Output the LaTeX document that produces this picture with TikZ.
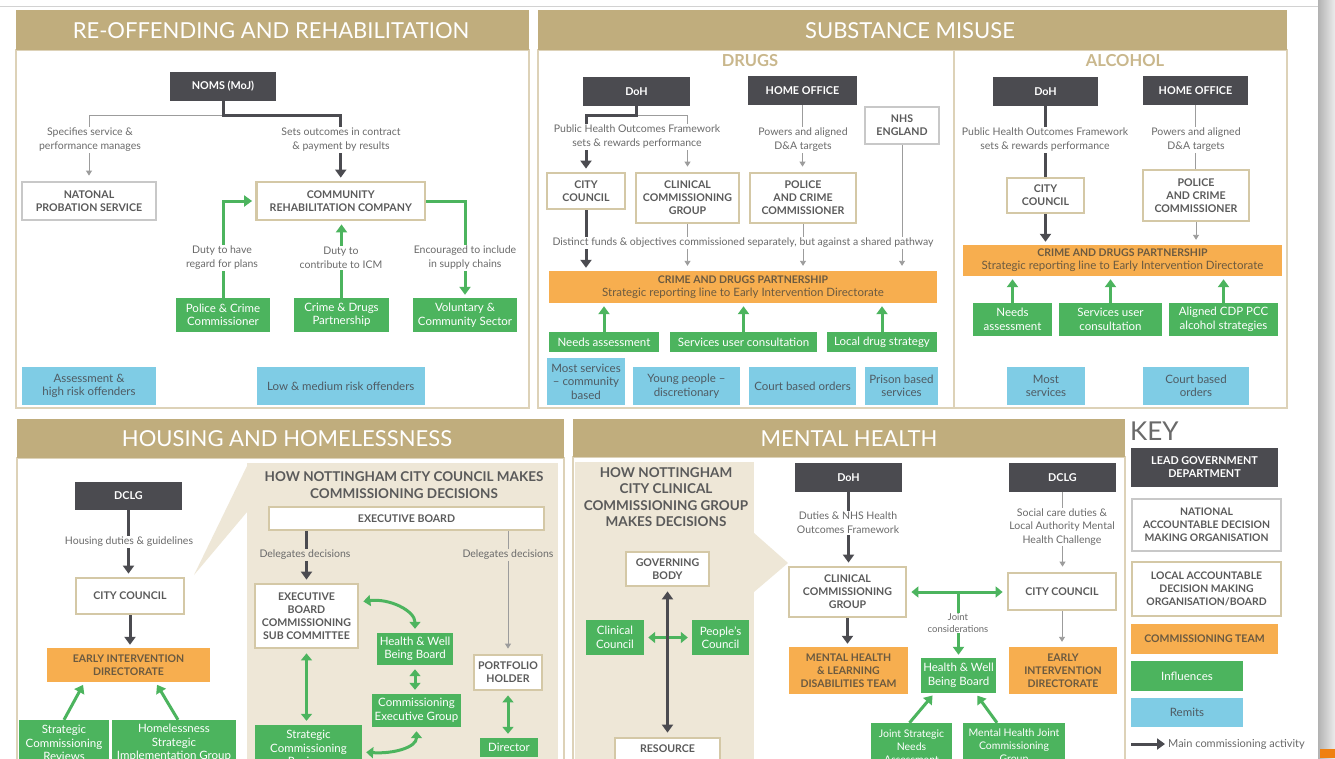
\documentclass[tikz,border=0pt]{standalone}
\usepackage{fontspec}
\setmainfont{Lato}
\usetikzlibrary{arrows.meta}
\definecolor{hdc}{HTML}{C0AD7D}
\definecolor{tanb}{HTML}{D4C8A6}
\definecolor{tanp}{HTML}{DDD2B8}
\definecolor{tanT}{HTML}{C9B78C}
\definecolor{dkc}{HTML}{4B4B50}
\definecolor{grb}{HTML}{C8C8C8}
\definecolor{orc}{HTML}{F7AE4F}
\definecolor{ort}{HTML}{6B5A40}
\definecolor{grc}{HTML}{4CB45E}
\definecolor{blc}{HTML}{7FCCE5}
\definecolor{blt}{HTML}{4F5B63}
\definecolor{bei}{HTML}{EEE7D7}
\definecolor{lbt}{HTML}{6A6A6A}
\definecolor{txb}{HTML}{5A5A5A}
\definecolor{gyc}{HTML}{9C9C9C}
\newcommand\fsz[2]{\fontsize{#1}{#2}\selectfont}
\newcommand\bx[7]{\node[#1, minimum width={(#5)-(#3)}, minimum height={(#6)-(#4)}] (#2) at ({((#3)+(#5))/2},{((#4)+(#6))/2}) {#7};}
\tikzset{
 base/.style={inner sep=0pt, align=center},
 dk/.style={base, fill=dkc, text=white, font=\bfseries\fsz{10.8}{13}},
 loc/.style={base, fill=white, draw=tanb, line width=2.8pt, text=txb, font=\bfseries\fsz{10.6}{13}},
 nat/.style={loc, draw=grb},
 org/.style={base, fill=orc, text=ort, font=\bfseries\fsz{10.5}{13}},
 grn/.style={base, fill=grc, text=white, font=\fsz{11.5}{13.5}},
 blu/.style={base, fill=blc, text=blt, font=\fsz{11.5}{13.5}},
 lbl/.style={inner sep=1pt, fill=white, text=lbt, font=\fsz{10.5}{14}, align=center},
 lblb/.style={lbl, fill=bei},
 htxt/.style={inner sep=0pt, text=white, font=\fsz{22}{22}},
 subt/.style={inner sep=0pt, text=tanT, font=\bfseries\fsz{16.5}{16.5}},
 howt/.style={inner sep=0pt, text=txb, font=\bfseries\fsz{13.5}{16.5}, align=center},
 dkar/.style={draw=dkc, line width=3pt, -{Triangle[length=8pt,width=11pt]}, shorten >=3pt},
 dkln/.style={draw=dkc, line width=3pt},
 dkdbl/.style={draw=dkc, line width=3pt, {Triangle[length=8pt,width=11pt]}-{Triangle[length=8pt,width=11pt]}, shorten >=4pt, shorten <=4pt},
 gyar/.style={draw=gyc, line width=0.9pt, -{Triangle[length=5pt,width=6pt]}, shorten >=5pt},
 gyln/.style={draw=gyc, line width=0.9pt},
 grar/.style={draw=grc, line width=3pt, -{Triangle[length=8pt,width=11pt]}, shorten >=3pt},
 grdbl/.style={draw=grc, line width=3pt, {Triangle[length=7pt,width=11pt]}-{Triangle[length=7pt,width=11pt]}, shorten >=4pt, shorten <=4pt},
 panel/.style={draw=tanp, line width=1.2pt, fill=white}
}
\begin{document}
\begin{tikzpicture}[x=1pt,y=-1pt]
\useasboundingbox (0,0) rectangle (1335,758);
\clip (0,0) rectangle (1335,758);
\fill[white] (0,0) rectangle (1335,758);
\shade[left color=gray!60, right color=gray!15] (1318,0) rectangle (1335,758);
\fill[orange!75!brown] (1320,749) rectangle (1335,758);
\draw[gray!35, line width=1pt] (0,6) -- (1318,6);

% ===== panels =====
\draw[panel] (16,50) rectangle (529,408);
\fill[hdc] (16,10) rectangle (529,50);
\node[htxt] (h1) at (271,31) {RE-OFFENDING AND REHABILITATION};

\draw[panel] (538,50) rectangle (1287,408);
\draw[tanp, line width=1.2pt] (954,50) -- (954,408);
\fill[hdc] (538,10) rectangle (1287,50);
\node[htxt] (h2) at (910,31) {SUBSTANCE MISUSE};

\draw[panel] (17,458) rectangle (564,775);
\fill[hdc] (17,419) rectangle (564,458);
\node[htxt] (h3) at (287,439) {HOUSING AND HOMELESSNESS};
\fill[bei] (247,463) rectangle (558,775);
\fill[bei] (247,466) -- (194,575) -- (247,512) -- cycle;

\draw[panel] (573,457) rectangle (1125,775);
\fill[hdc] (573,419) rectangle (1125,457);
\node[htxt] (h4) at (849,439) {MENTAL HEALTH};
\fill[bei] (575,462) rectangle (754,775);
\fill[bei] (754,533) -- (788,563) -- (754,592) -- cycle;

% ===== Re-offending =====
\bx{dk}{noms}{170}{72}{276}{101}{NOMS (MoJ)}
\bx{nat}{nps}{22}{182}{156}{220}{NATONAL\\PROBATION SERVICE}
\bx{loc}{crc}{256.5}{182}{425}{220}{COMMUNITY\\REHABILITATION COMPANY}
\bx{grn}{pcc1}{176}{298}{270}{332}{Police \& Crime\\Commissioner}
\bx{grn}{cdp1}{294}{298}{389}{332}{Crime \& Drugs\\Partnership}
\bx{grn}{vcs}{413}{298}{517}{332}{Voluntary \&\\Community Sector}
\bx{blu}{rem1a}{22}{367}{156}{405}{Assessment \&\\high risk offenders}
\bx{blu}{rem1b}{256.5}{367}{425}{405}{Low \& medium risk offenders}
\draw[gyar] (noms.south) ++(0,14) -| (nps.north);
\draw[dkar] (noms.south) -- ++(0,14) -| (crc.north);
\node[lbl] (l1a) at (90,140) {Specifies service \&\\performance manages};
\node[lbl] (l1b) at (341,140) {Sets outcomes in contract\\\& payment by results};
\draw[grar] (pcc1.north) |- (crc.west);
\draw[grar] (cdp1.north) -- (cdp1.north |- crc.south);
\draw[grar] (crc.east) -| (vcs.north);
\node[lbl] (l1c) at (222,258) {Duty to have\\regard for plans};
\node[lbl] (l1d) at (341,258) {Duty to\\contribute to ICM};
\node[lbl] (l1e) at (465,258) {Encouraged to include\\in supply chains};

% ===== Drugs =====
\node[subt] (drg) at (750,61) {DRUGS};
\bx{dk}{dohD}{583}{77}{690}{106}{DoH}
\bx{dk}{hoD}{748}{76}{857}{105}{HOME OFFICE}
\bx{nat}{nhs}{865}{107}{939}{144}{NHS\\ENGLAND}
\bx{loc}{ccD}{547}{173}{625}{209}{CITY\\COUNCIL}
\bx{loc}{ccgD}{636}{173}{739}{223}{CLINICAL\\COMMISSIONING\\GROUP}
\bx{loc}{pccD}{750}{173}{856}{223}{POLICE\\AND CRIME\\COMMISSIONER}
\bx{org}{cdpD}{549}{271}{937}{303}{CRIME AND DRUGS PARTNERSHIP\\{\mdseries\fsz{11.5}{14}Strategic reporting line to Early Intervention Directorate}}
\bx{grn}{naD}{549}{332}{659}{352}{Needs assessment}
\bx{grn}{suD}{670}{332}{817}{352}{Services user consultation}
\bx{grn}{ldD}{827}{332}{937}{352}{Local drug strategy}
\bx{blu}{msD}{547}{358}{625}{405}{Most services\\-- community\\based}
\bx{blu}{ypD}{633}{367}{740}{405}{Young people --\\discretionary}
\bx{blu}{cbD}{749}{367}{856}{405}{Court based orders}
\bx{blu}{pbD}{865}{367}{938}{405}{Prison based\\services}
\draw[gyar] (dohD.south) ++(0,9) -| (ccgD.north);
\draw[dkar] (dohD.south) -- ++(0,9) -| (ccD.north);
\draw[gyar] (hoD.south) -- (hoD.south |- pccD.north);
\draw[dkar] (ccD.south) -- (ccD.south |- cdpD.north);
\draw[gyar] (ccgD.south) -- (ccgD.south |- cdpD.north);
\draw[gyar] (pccD.south) -- (pccD.south |- cdpD.north);
\draw[gyar] (nhs.south) -- (nhs.south |- cdpD.north);
\draw[grar] (naD.north) -- (naD.north |- cdpD.south);
\draw[grar] (suD.north) -- (suD.north |- cdpD.south);
\draw[grar] (ldD.north) -- (ldD.north |- cdpD.south);
\node[lbl] (l2a) at (637,137) {Public Health Outcomes Framework\\sets \& rewards performance};
\node[lbl] (l2b) at (803,140) {Powers and aligned\\D\&A targets};
\node[lbl] (l2c) at (743,243) {Distinct funds \& objectives commissioned separately, but against a shared pathway};

% ===== Alcohol =====
\node[subt] (alc) at (1125,61) {ALCOHOL};
\bx{dk}{dohA}{993}{77}{1098}{106}{DoH}
\bx{dk}{hoA}{1143}{76}{1248}{105}{HOME OFFICE}
\bx{loc}{ccA}{1007}{178}{1084}{213}{CITY\\COUNCIL}
\bx{loc}{pccA}{1143}{170}{1249}{221}{POLICE\\AND CRIME\\COMMISSIONER}
\bx{org}{cdpA}{963}{245}{1282}{276}{CRIME AND DRUGS PARTNERSHIP\\{\mdseries\fsz{11.5}{14}Strategic reporting line to Early Intervention Directorate}}
\bx{grn}{naA}{973}{303}{1052}{336}{Needs\\assessment}
\bx{grn}{suA}{1059}{303}{1162}{336}{Services user\\consultation}
\bx{grn}{alA}{1169}{303}{1278}{336}{Aligned CDP PCC\\alcohol strategies}
\bx{blu}{msA}{1007}{367}{1085}{405}{Most\\services}
\bx{blu}{cbA}{1143}{367}{1249}{405}{Court based\\orders}
\draw[dkln] (dohA.south) -- (dohA.south |- ccA.north);
\draw[gyln] (hoA.south) -- (hoA.south |- pccA.north);
\draw[dkar] (ccA.south) -- (ccA.south |- cdpA.north);
\draw[gyar] (pccA.south) -- (pccA.south |- cdpA.north);
\draw[grar] (naA.north) -- (naA.north |- cdpA.south);
\draw[grar] (suA.north) -- (suA.north |- cdpA.south);
\draw[grar] (alA.north) -- (alA.north |- cdpA.south);
\node[lbl] (l3a) at (1045,140) {Public Health Outcomes Framework\\sets \& rewards performance};
\node[lbl] (l3b) at (1196,140) {Powers and aligned\\D\&A targets};

% ===== Housing =====
\bx{dk}{dclgH}{75}{482}{182}{510}{DCLG}
\bx{loc}{ccH}{76}{578}{184}{614}{CITY COUNCIL}
\bx{org}{eidH}{47}{648}{210}{682}{EARLY INTERVENTION\\DIRECTORATE}
\bx{grn}{scrL}{19}{720}{109}{766}{Strategic\\Commissioning\\Reviews}
\bx{grn}{hsig}{112}{720}{236}{766}{Homelessness\\Strategic\\Implementation Group}
\node[howt] (howH) at (404,485) {HOW NOTTINGHAM CITY COUNCIL MAKES\\COMMISSIONING DECISIONS};
\bx{loc}{ebH}{269}{507}{544}{530}{EXECUTIVE BOARD}
\bx{loc}{escH}{255}{584}{358}{648}{EXECUTIVE\\BOARD\\COMMISSIONING\\SUB COMMITTEE}
\bx{grn}{hwbH}{377}{633}{453}{665}{Health \& Well\\Being Board}
\bx{grn}{cegH}{372}{694}{461}{727}{Commissioning\\Executive Group}
\bx{grn}{scrM}{255}{725}{362}{771}{Strategic\\Commissioning\\Reviews}
\bx{loc}{phH}{474}{655}{542}{690}{PORTFOLIO\\HOLDER}
\bx{grn}{dirH}{480}{738}{538}{757}{Director}
\draw[dkar] (dclgH.south) -- (dclgH.south |- ccH.north);
\node[lbl] (l4a) at (129,542) {Housing duties \& guidelines};
\draw[dkar] (ccH.south) -- (ccH.south |- eidH.north);
\draw[grar] (scrL.north) -- ([xshift=-44pt]eidH.south);
\draw[grar] ([xshift=4pt]hsig.north) -- ([xshift=27pt]eidH.south);
\draw[dkar] (escH.north |- ebH.south) -- (escH.north);
\draw[gyar] (phH.north |- ebH.south) -- (phH.north);
\node[lblb] (l4b) at (305,555) {Delegates decisions};
\node[lblb] (l4c) at (508,555) {Delegates decisions};
\draw[grdbl] (escH.south) -- (escH.south |- scrM.north);
\draw[grdbl] (hwbH.south) -- (hwbH.south |- cegH.north);
\draw[grdbl] (phH.south) -- (phH.south |- dirH.north);
\draw[grdbl] ([yshift=14pt]escH.east) .. controls +(30,-4) and +(0,-22) .. (hwbH.north);
\draw[grdbl] ([yshift=-4pt]scrM.east) .. controls +(32,2) and +(0,20) .. (cegH.south);

% ===== Mental health =====
\node[howt] (howM) at (666,497) {HOW NOTTINGHAM\\CITY CLINICAL\\COMMISSIONING GROUP\\MAKES DECISIONS};
\bx{loc}{gbM}{626}{552}{709}{586}{GOVERNING\\BODY}
\bx{loc}{resM}{615}{738}{720}{760}{RESOURCE}
\bx{grn}{ccM}{586}{620}{644}{655}{Clinical\\Council}
\bx{grn}{pcM}{692}{620}{749}{655}{People's\\Council}
\draw[grdbl] (ccM.east) -- (pcM.west);
\draw[dkdbl] (gbM.south) -- (gbM.south |- resM.north);
\bx{dk}{dohM}{795}{463}{902}{492}{DoH}
\bx{dk}{dclgM}{1009}{463}{1116}{492}{DCLG}
\bx{loc}{ccgM}{789}{567}{906}{617}{CLINICAL\\COMMISSIONING\\GROUP}
\bx{loc}{ccyM}{1008}{573}{1116}{610}{CITY COUNCIL}
\bx{org}{mhld}{789}{647}{908}{694}{MENTAL HEALTH\\\& LEARNING\\DISABILITIES TEAM}
\bx{org}{eidM}{1009}{647}{1117}{694}{EARLY\\INTERVENTION\\DIRECTORATE}
\bx{grn}{hwbM}{921}{658}{996}{693}{Health \& Well\\Being Board}
\bx{grn, font=\fsz{10.5}{13}}{jsna}{871}{723}{952}{770}{Joint Strategic\\Needs\\Assessment}
\bx{grn, font=\fsz{10.5}{13}}{mhjc}{963}{723}{1065}{770}{Mental Health Joint\\Commissioning\\Group}
\draw[dkar] (dohM.south) -- (dohM.south |- ccgM.north);
\node[lbl] (l5a) at (848,523) {Duties \& NHS Health\\Outcomes Framework};
\draw[gyar] (dclgM.south) -- (dclgM.south |- ccyM.north);
\node[lbl, font=\fsz{10.5}{13.5}] (l5b) at (1062,527) {Social care duties \&\\Local Authority Mental\\Health Challenge};
\draw[grdbl] (ccgM.east) -- (ccgM.east -| ccyM.west);
\draw[grar] (hwbM.north |- ccgM.east) -- (hwbM.north);
\node[lbl, font=\fsz{9.5}{11.5}] (l5c) at (958,623) {Joint\\considerations};
\draw[dkar] (ccgM.south) -- (ccgM.south |- mhld.north);
\draw[gyar] (ccyM.south) -- (ccyM.south |- eidM.north);
\draw[grar] ([xshift=-2pt]jsna.north) -- ([xshift=-24pt]hwbM.south);
\draw[grar] ([xshift=-17pt]mhjc.north) -- ([xshift=17pt]hwbM.south);

% ===== Key =====
\node[inner sep=0pt, anchor=west, text=lbt, font=\fsz{26}{26}] (key) at (1130,431) {KEY};
\bx{dk}{k1}{1131}{448}{1278}{487}{LEAD GOVERNMENT\\DEPARTMENT}
\bx{nat, font=\bfseries\fsz{10.4}{13}}{k2}{1132}{499}{1281}{551}{NATIONAL\\ACCOUNTABLE DECISION\\MAKING ORGANISATION}
\bx{loc, font=\bfseries\fsz{10.4}{13}}{k3}{1132}{562}{1281}{616}{LOCAL ACCOUNTABLE\\DECISION MAKING\\ORGANISATION/BOARD}
\bx{org}{k4}{1131}{624}{1278}{654}{COMMISSIONING TEAM}
\bx{grn}{k5}{1131}{661}{1243}{691}{Influences}
\bx{blu}{k6}{1131}{698}{1243}{727}{Remits}
\coordinate (ka) at (1131,744);
\node[inner sep=0pt, anchor=west, text=lbt, font=\fsz{11}{13}] (kt) at (1168,744) {Main commissioning activity};
\draw[dkar] (ka) -- (kt.west);
\end{tikzpicture}
\end{document}
